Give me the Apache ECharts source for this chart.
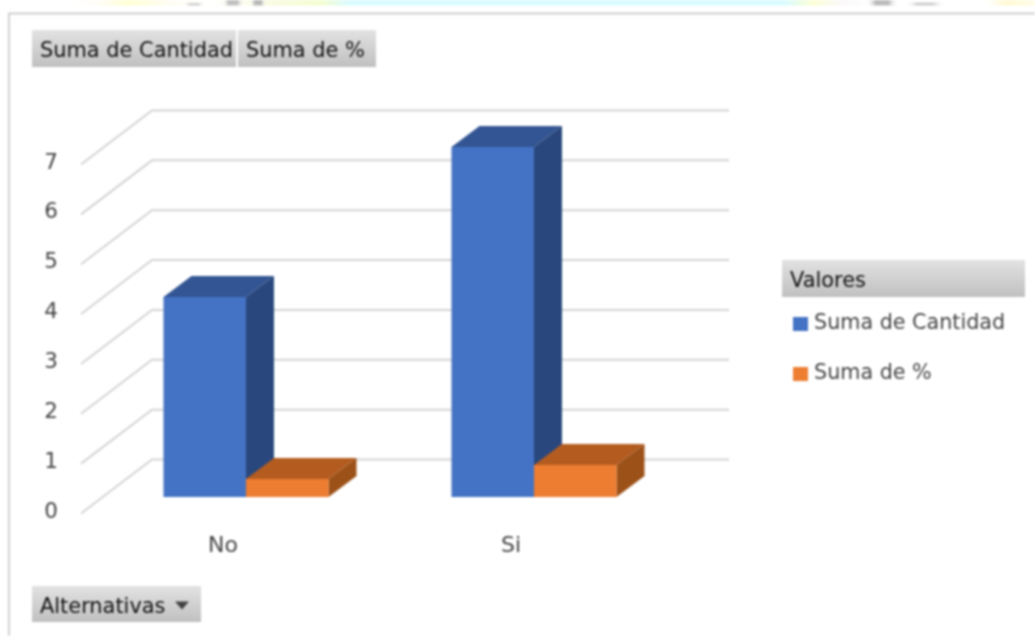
<!DOCTYPE html>
<html>
<head>
<meta charset="utf-8">
<style>
html,body{margin:0;padding:0;background:#fff;overflow:hidden}
#c{width:1035px;height:636px;filter:blur(0.8px)}
</style>
<script src="https://cdn.jsdelivr.net/npm/echarts@6/dist/echarts.min.js"></script>
</head>
<body>
<div id="c"></div>
<script>
const categories = ['No', 'Si'];
const cantidad = [4, 7];
const porcentaje = [0.36, 0.64];
const valueTicks = [0, 1, 2, 3, 4, 5, 6, 7];
const seriesNames = ['Suma de Cantidad', 'Suma de %'];
const legendTitle = 'Valores';
const fieldButtons = ['Suma de Cantidad', 'Suma de %'];
const axisButton = 'Alternativas';

const FONT = 'DejaVu Sans';
const BAR_W = 82.5, DX = 28, DY = 21;
const WALL_DX = 71, WALL_DY = 54, WALL_W = 577, WALL_SHIFT = 1.5;
const palette = [
  {front: '#4472C4', top: '#335593', side: '#29477D'},
  {front: '#ED7D31', top: '#B45C20', side: '#9C5118'}
];
const btnFill = {type: 'linear', x: 0, y: 0, x2: 0, y2: 1,
  colorStops: [{offset: 0, color: '#e2e2e2'}, {offset: 1, color: '#c0c0c0'}]};

function button(x, y, w, h, label) {
  return [
    {type: 'rect', shape: {x, y, width: w, height: h}, style: {fill: btnFill}, silent: true},
    {type: 'text', x: x + 8, y: y + h / 2 + 3.5, style: {text: label, font: '20.9px "' + FONT + '"', fill: '#111111', verticalAlign: 'middle'}, silent: true}
  ];
}

function blob(x, y, w, h, color) {
  return {type: 'rect', shape: {x, y, width: w, height: h}, silent: true, style: {fill: {
    type: 'linear', x: 0, y: 0, x2: 1, y2: 0, colorStops: [
      {offset: 0, color: 'rgba(255,255,255,0)'}, {offset: 0.3, color}, {offset: 0.7, color}, {offset: 1, color: 'rgba(255,255,255,0)'}
    ]}}};
}

function extrude(seriesIdx, shiftDir) {
  return function (params, api) {
    const p = api.coord([api.value(0), api.value(1)]);
    const b = api.coord([api.value(0), 0]);
    const l = p[0] + (shiftDir < 0 ? -BAR_W : 0);
    const r = l + BAR_W;
    const c = palette[seriesIdx];
    return {type: 'group', children: [
      {type: 'polygon', shape: {points: [[l, p[1]], [l + DX, p[1] - DY], [r + DX, p[1] - DY], [r, p[1]]]}, style: {fill: c.top}},
      {type: 'polygon', shape: {points: [[r, p[1]], [r + DX, p[1] - DY], [r + DX, b[1] - DY], [r, b[1]]]}, style: {fill: c.side}}
    ]};
  };
}

function wallLine(params, api) {
  const p = api.coord([0, api.value(0)]);
  const x0 = api.coord([0, 0])[0] - api.size([1, 0])[0] / 2 + 2;
  const y = p[1] + WALL_SHIFT;
  const ls = {stroke: '#d4d4d4', lineWidth: 2, fill: 'none'};
  return {type: 'polyline', shape: {points: [[x0, y], [x0 + WALL_DX, y - WALL_DY], [x0 + WALL_DX + WALL_W, y - WALL_DY]]}, style: ls};
}

const chart = echarts.init(document.getElementById('c'), null, {renderer: 'canvas'});
chart.setOption({
  animation: false,
  backgroundColor: '#fff',
  textStyle: {fontFamily: FONT},
  grid: [
    {left: 102, top: 147, width: 576, height: 350},
    {left: 79, top: 163, width: 576, height: 349}
  ],
  xAxis: [
    {type: 'category', gridIndex: 0, data: categories, axisLine: {show: false}, axisTick: {show: false}, axisLabel: {show: false}},
    {type: 'category', gridIndex: 1, data: categories, axisLine: {show: false}, axisTick: {show: false},
      axisLabel: {fontFamily: FONT, fontSize: 22, color: '#444444', margin: 23}}
  ],
  yAxis: [
    {type: 'value', gridIndex: 0, min: 0, max: 7, interval: 1, axisLine: {show: false}, axisTick: {show: false}, splitLine: {show: false}, axisLabel: {show: false}},
    {type: 'value', gridIndex: 1, min: 0, max: 7, interval: 1, axisLine: {show: false}, axisTick: {show: false}, splitLine: {show: false},
      axisLabel: {fontFamily: FONT, fontSize: 21.5, color: '#444444', margin: 21}}
  ],
  legend: {
    data: seriesNames, orient: 'vertical', left: 788, top: 308.5, itemWidth: 15, itemHeight: 14, itemGap: 29,
    icon: 'rect', selectedMode: false,
    textStyle: {fontFamily: FONT, fontSize: 20.7, color: '#444444', padding: [0, 0, 9, 1]}
  },
  series: [
    {name: 'wall', type: 'custom', xAxisIndex: 1, yAxisIndex: 1, z: 1, silent: true, renderItem: wallLine,
      encode: {y: 0}, data: valueTicks.map(v => [v])},
    {name: 'ext0', type: 'custom', xAxisIndex: 0, yAxisIndex: 0, z: 2, silent: true, renderItem: extrude(0, -1),
      encode: {x: 0, y: 1}, data: categories.map((c, i) => [i, cantidad[i]])},
    {name: 'ext1', type: 'custom', xAxisIndex: 0, yAxisIndex: 0, z: 3, silent: true, renderItem: extrude(1, 1),
      encode: {x: 0, y: 1}, data: categories.map((c, i) => [i, porcentaje[i]])},
    {name: seriesNames[0], type: 'bar', xAxisIndex: 0, yAxisIndex: 0, z: 4, barWidth: BAR_W, barGap: 0,
      itemStyle: {color: palette[0].front}, data: cantidad},
    {name: seriesNames[1], type: 'bar', xAxisIndex: 0, yAxisIndex: 0, z: 4, barWidth: BAR_W, barGap: 0,
      itemStyle: {color: palette[1].front}, data: porcentaje}
  ],
  graphic: {elements: [
    {type: 'rect', shape: {x: 70, y: 0, width: 965, height: 5.5}, silent: true, style: {fill: {
      type: 'linear', x: 0, y: 0, x2: 1, y2: 0, colorStops: [
        {offset: 0, color: '#ffffff'}, {offset: 0.03, color: '#fffdf6'}, {offset: 0.06, color: '#ffffd2'},
        {offset: 0.10, color: '#fffdf0'}, {offset: 0.14, color: '#ffffff'}, {offset: 0.20, color: '#fbfbe4'},
        {offset: 0.26, color: '#f4fdd0'}, {offset: 0.29, color: '#d8fbff'}, {offset: 0.74, color: '#d8fbff'},
        {offset: 0.77, color: '#fcffd4'}, {offset: 0.80, color: '#fbf8fa'}, {offset: 0.83, color: '#ffffff'},
        {offset: 0.95, color: '#ffffff'}, {offset: 0.97, color: '#fff9d2'}, {offset: 1, color: '#fffde8'}
      ]}}},
    blob(183, 3, 22, 2.5, '#cfcfcf'),
    blob(222, 0, 22, 5.5, '#c0c0c0'),
    blob(250, 0, 16, 5.5, '#b8b8b8'),
    blob(866, 0, 32, 5.5, '#bbbbbb'),
    blob(905, 2.5, 40, 3, '#cdcdcd'),
    {type: 'polyline', shape: {points: [[9, 636], [9, 13.5], [1035, 13.5]]}, silent: true, style: {stroke: '#d0d0d0', lineWidth: 2, fill: 'none'}},
    ...button(32, 30, 204, 37, fieldButtons[0]),
    ...button(238, 30, 138, 37, fieldButtons[1]),
    ...button(782, 260, 243, 37, legendTitle),
    ...button(32, 586, 169, 36, axisButton),
    {type: 'polygon', shape: {points: [[175, 601.5], [189, 601.5], [182, 609.5]]}, silent: true, style: {fill: '#404040'}}
  ]}
});
</script>
</body>
</html>
